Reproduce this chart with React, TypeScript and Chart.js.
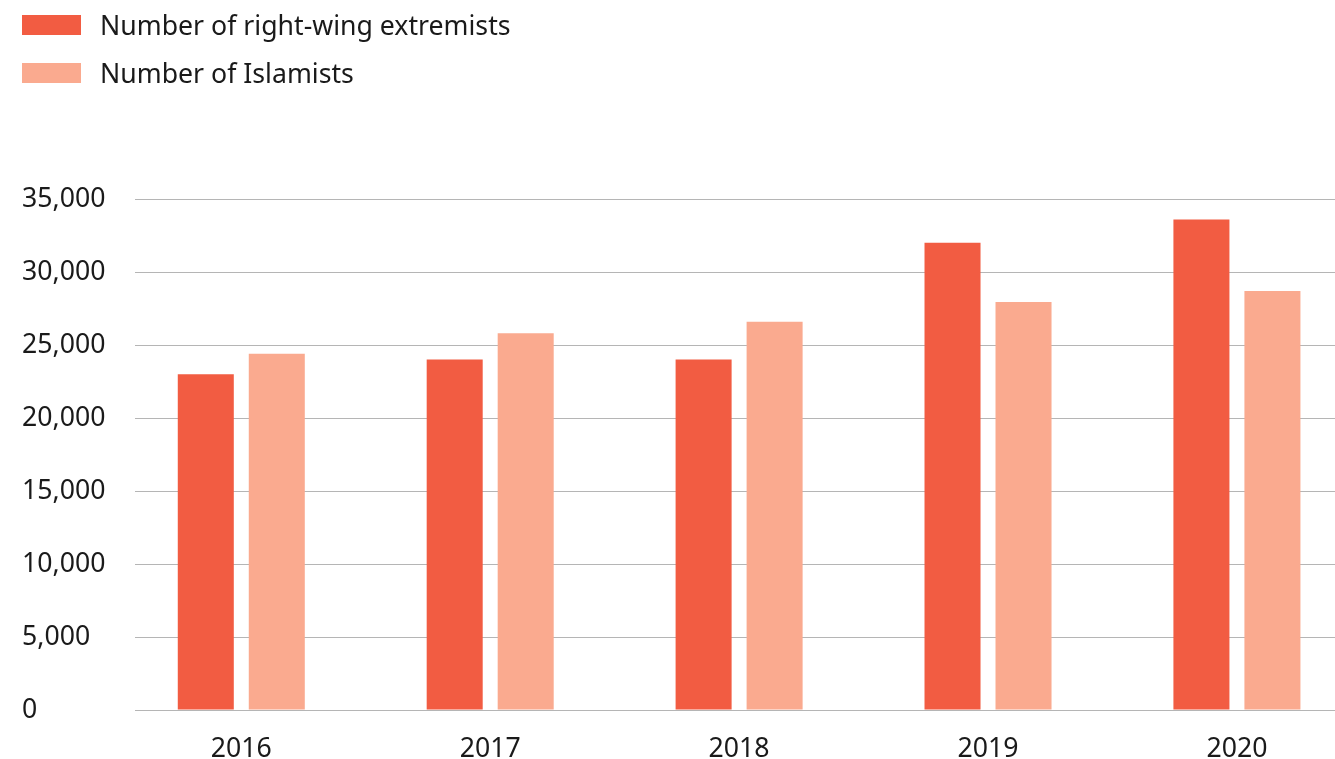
import React, { useEffect, useRef } from "react";
import { Chart, registerables } from "chart.js";

Chart.register(...registerables);

const years = ["2016", "2017", "2018", "2019", "2020"];
const rightWing = [23000, 24000, 24000, 32000, 33600];
const islamists = [24400, 25800, 26600, 27950, 28700];
const seriesNames = ["Number of right-wing extremists", "Number of Islamists"];
const seriesColors = ["#f25c42", "#faaa8f"];
const yTicks = [0, 5000, 10000, 15000, 20000, 25000, 30000, 35000];

const FONT = "'Noto Sans', 'Open Sans', sans-serif";
const FS = 26.67;

export default function App() {
  const ref = useRef<HTMLCanvasElement | null>(null);

  useEffect(() => {
    document.body.style.margin = "0";
    const canvas = ref.current;
    if (!canvas) return;
    const chart = new Chart(canvas, {
      type: "bar",
      data: {
        datasets: [
          {
            label: seriesNames[0],
            data: rightWing.map((v, i) => ({ x: i, y: v })),
            backgroundColor: seriesColors[0],
            categoryPercentage: 0.5705,
            barPercentage: 0.789,
          },
          {
            label: seriesNames[1],
            data: islamists.map((v, i) => ({ x: i, y: v })),
            backgroundColor: seriesColors[1],
            categoryPercentage: 0.5705,
            barPercentage: 0.789,
          },
        ],
      },
      options: {
        animation: false,
        responsive: false,
        maintainAspectRatio: false,
        layout: { padding: { top: 199, left: 22, right: 0, bottom: 0 } },
        plugins: {
          legend: { display: false },
          tooltip: { enabled: false },
        },
        scales: {
          x: {
            type: "linear",
            min: -0.427,
            max: 4.394,
            offset: false,
            bounds: "ticks",
            grid: { display: false, offset: false },
            border: { display: false },
            afterBuildTicks: (scale: any) => {
              scale.ticks = years.map((_, i) => ({ value: i }));
            },
            afterDataLimits: (scale: any) => {
              scale.min = -0.427;
              scale.max = 4.394;
            },
            afterFit: (scale: any) => {
              scale.height = 49;
            },
            ticks: {
              font: { family: FONT, size: FS },
              color: "#1a1a1a",
              padding: 15,
              callback: (v: any) => years[Math.round(Number(v))] ?? "",
            },
          },
          y: {
            min: 0,
            max: 35000,
            border: { display: false },
            grid: { color: "#b5b5b5", lineWidth: 1, drawTicks: false },
            afterBuildTicks: (scale: any) => {
              scale.ticks = yTicks.map((v) => ({ value: v }));
            },
            afterFit: (scale: any) => {
              scale.width = 113;
            },
            ticks: {
              font: { family: FONT, size: FS },
              color: "#1a1a1a",
              crossAlign: "far",
              padding: 8,
              callback: (v: any) => Number(v).toLocaleString("en-US"),
            },
          },
        },
      },
    });
    return () => chart.destroy();
  }, []);

  return (
    <div style={{ position: "relative", width: 1335, height: 759 }}>
      <canvas ref={ref} width={1335} height={759} style={{ display: "block" }} />
      {seriesNames.map((name, i) => (
        <div
          key={name}
          style={{
            position: "absolute",
            left: 22,
            top: 15 + i * 48,
            height: 20,
            display: "flex",
            alignItems: "center",
            fontFamily: FONT,
            fontSize: FS,
            color: "#1a1a1a",
            whiteSpace: "nowrap",
          }}
        >
          <span
            style={{
              display: "inline-block",
              width: 59,
              height: 20,
              background: seriesColors[i],
              marginRight: 19,
            }}
          />
          <span style={{ lineHeight: "20px" }}>{name}</span>
        </div>
      ))}
    </div>
  );
}
